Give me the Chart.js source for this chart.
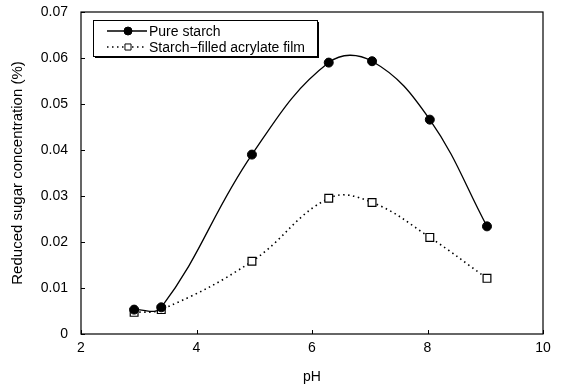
<!DOCTYPE html>
<html>
<head>
<meta charset="utf-8">
<script src="https://cdn.jsdelivr.net/npm/chart.js@4"></script>
<style>
  html, body { margin: 0; padding: 0; background: #fff; }
  #wrap { width: 562px; height: 386px; }
</style>
</head>
<body>
<div id="wrap"><canvas id="chart" width="562" height="386"></canvas></div>
<script>
// pH values and concentrations
const phValues = [2.92, 3.39, 4.96, 6.29, 7.04, 8.04, 9.03];
const pureStarch = [0.0053, 0.0058, 0.0390, 0.0590, 0.0593, 0.0466, 0.0234];
const filledFilm = [0.0047, 0.0053, 0.0158, 0.0295, 0.0286, 0.0210, 0.0121];
const xTicks = [2, 4, 6, 8, 10];
const seriesNames = ["Pure starch", "Starch\u2212filled acrylate film"];

const toPoints = (xs, ys) => xs.map((x, i) => ({ x, y: ys[i] }));
const FONT = "'Liberation Sans', Arial, sans-serif";

// frame, inward ticks and the boxed legend
const framePlugin = {
  id: "frame",
  afterDraw(chart) {
    const { ctx, chartArea: a, scales } = chart;
    ctx.save();
    ctx.strokeStyle = "#000";
    ctx.lineWidth = 1.2;
    ctx.strokeRect(a.left, a.top, a.right - a.left, a.bottom - a.top);

    ctx.lineWidth = 1;
    ctx.beginPath();
    for (let v = 0; v <= 0.07001; v += 0.01) {
      const y = Math.round(scales.y.getPixelForValue(v)) + 0.5;
      ctx.moveTo(a.left, y);
      ctx.lineTo(a.left + 4, y);
    }
    xTicks.forEach(v => {
      const x = Math.round(scales.x.getPixelForValue(v)) + 0.5;
      ctx.moveTo(x, a.bottom);
      ctx.lineTo(x, a.bottom - 4);
    });
    ctx.stroke();

    // legend box
    const bx = 93, by = 20, bw = 224, bh = 36;
    ctx.fillStyle = "#fff";
    ctx.fillRect(bx, by, bw, bh);
    ctx.fillStyle = "#000";
    ctx.fillRect(bx + 2, by + bh, bw, 2);
    ctx.fillRect(bx + bw, by + 2, 2, bh);
    ctx.lineWidth = 1;
    ctx.strokeRect(bx + 0.5, by + 0.5, bw, bh);

    ctx.font = "14px " + FONT;
    ctx.textBaseline = "middle";
    ctx.textAlign = "left";
    const rows = [by + 11, by + 27];
    chart.data.datasets.forEach((ds, i) => {
      const y = rows[i];
      ctx.strokeStyle = "#000";
      ctx.lineWidth = ds.borderWidth;
      ctx.setLineDash(ds.borderDash || []);
      ctx.beginPath();
      ctx.moveTo(107, y);
      ctx.lineTo(147, y);
      ctx.stroke();
      ctx.setLineDash([]);
      ctx.fillStyle = ds.pointBackgroundColor;
      ctx.lineWidth = 1;
      Chart.helpers.drawPoint(ctx, {
        pointStyle: ds.pointStyle,
        radius: ds.pointStyle === "rect" ? 4.3 : 4,
        borderWidth: 1
      }, 128, y);
      ctx.fillStyle = "#000";
      ctx.fillText(ds.label, 149, y + 1);
    });
    ctx.restore();
  }
};

new Chart(document.getElementById("chart"), {
  type: "line",
  data: {
    datasets: [
      {
        label: seriesNames[0],
        data: toPoints(phValues, pureStarch),
        borderColor: "#000",
        borderWidth: 1.3,
        tension: 0.4,
        pointStyle: "circle",
        pointRadius: 4.5,
        pointBackgroundColor: "#000",
        pointBorderColor: "#000",
        pointBorderWidth: 1
      },
      {
        label: seriesNames[1],
        data: toPoints(phValues, filledFilm),
        borderColor: "#000",
        borderWidth: 1.6,
        borderDash: [1.5, 3.5],
        tension: 0.4,
        pointStyle: "rect",
        pointRadius: 5.5,
        pointBackgroundColor: "#fff",
        pointBorderColor: "#000",
        pointBorderWidth: 1.2
      }
    ]
  },
  options: {
    responsive: false,
    animation: false,
    layout: { padding: { left: 0, right: 19, top: 12, bottom: 0 } },
    plugins: { legend: { display: false }, tooltip: { enabled: false } },
    scales: {
      x: {
        type: "linear",
        min: 2,
        max: 10,
        afterBuildTicks: s => { s.ticks = xTicks.map(v => ({ value: v })); },
        afterFit: s => { s.height = 52; s.paddingLeft = 0; s.paddingRight = 0; },
        grid: { display: false, drawTicks: false },
        border: { display: false },
        ticks: { color: "#000", padding: 6, font: { family: FONT, size: 14 } },
        title: { display: true, text: "pH", color: "#000", padding: { top: 0, bottom: 0 }, font: { family: FONT, size: 14 } }
      },
      y: {
        min: 0,
        max: 0.07,
        afterFit: s => { s.width = 81; s.paddingTop = 0; s.paddingBottom = 0; },
        grid: { display: false, drawTicks: false },
        border: { display: false },
        ticks: {
          stepSize: 0.01,
          color: "#000",
          padding: 13,
          font: { family: FONT, size: 14 },
          callback: v => v === 0 ? "0" : v.toFixed(2)
        },
        title: { display: true, text: "Reduced sugar concentration (%)", color: "#000", padding: { top: 9, bottom: 0 }, font: { family: FONT, size: 15 } }
      }
    }
  },
  plugins: [framePlugin]
});
</script>
</body>
</html>
